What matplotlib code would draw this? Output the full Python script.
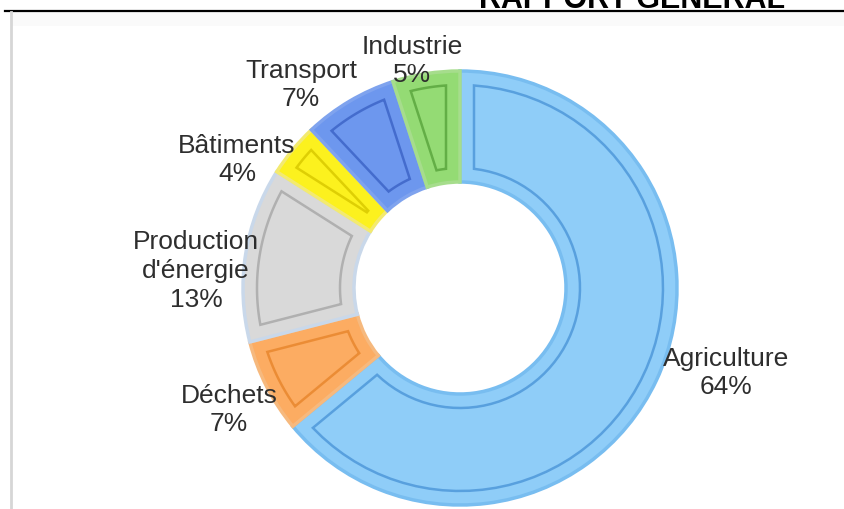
import numpy as np
import matplotlib
matplotlib.use("Agg")
from matplotlib import pyplot as plt
from matplotlib.patches import Polygon

plt.rcParams['font.family'] = ['Liberation Sans', 'DejaVu Sans']

# emissions by sector, clockwise from 12 o'clock
sectors = ["Agriculture", "Déchets", "Production\nd'énergie", "Bâtiments",
           "Transport", "Industrie"]
shares = [64, 7, 13, 4, 7, 5]
fills = ["#8fcdf8", "#fcac62", "#d9d9d9", "#fcf11e", "#6d97ee", "#94db74"]
edges = ["#78bdf0", "#f6b97e", "#c9d8ea", "#f3ea70", "#7fa3ee", "#a6dd8c"]
lines = ["#4f98da", "#e8872e", "#a9a9a9", "#d9c900", "#3d65c8", "#5ba63e"]
# label centres in page pixels (x, y from top)
label_pos = [(726, 373), (229, 410), (196, 271), (237, 160),
             (301, 85), (412, 61)]

W, H = 844, 510
cx, cy = 460, H - 289
R, r_in = 217, 106


def inset_outline(t1, t2, d):
    """Polygon following a ring wedge, pulled in by d pixels on every side."""
    ro, ri = R - d, r_in + d
    a_o, a_i = np.degrees(np.arcsin(d / ro)), np.degrees(np.arcsin(d / ri))
    outer = np.linspace(t1 + a_o, t2 - a_o, 60)
    inner = np.linspace(t2 - a_i, t1 + a_i, 60)
    if t2 - a_i < t1 + a_i:
        inner = np.array([(t1 + t2) / 2])
        ri = d / np.sin(np.radians((t2 - t1) / 2))
    pts = [(cx + ro * np.cos(np.radians(a)), cy + ro * np.sin(np.radians(a)))
           for a in outer]
    pts += [(cx + ri * np.cos(np.radians(a)), cy + ri * np.sin(np.radians(a)))
            for a in inner]
    return np.array(pts)


fig = plt.figure(figsize=(W / 100, H / 100), dpi=100)
ax = fig.add_axes([0, 0, 1, 1])
ax.set_xlim(0, W)
ax.set_ylim(0, H)
ax.set_aspect("equal")
ax.axis("off")

# faint band under the header rule
ax.fill_between([12, W], H - 27, H - 13, color="#fafafa", linewidth=0)

wedges, _ = ax.pie(shares, center=(cx, cy), radius=R, startangle=90,
                   counterclock=False, colors=fills,
                   wedgeprops=dict(width=R - r_in, linewidth=2.5))
for w, ec, lc in zip(wedges, edges, lines):
    w.set_edgecolor(ec)
    outline = inset_outline(w.theta1, w.theta2, 14)
    ax.add_patch(Polygon(outline, closed=True, fill=False, edgecolor=lc,
                         linewidth=1.8, alpha=0.85, zorder=3))
ax.set_xlim(0, W)
ax.set_ylim(0, H)

for name, val, (lx, ly) in zip(sectors, shares, label_pos):
    ax.text(lx, H - ly, f"{name}\n{val}%", ha="center", va="center",
            fontsize=19, color="#2e2e2e", linespacing=1.25, zorder=5)

# page header and frame
ax.text(785, H - 8, "RAPPORT GÉNÉRAL", ha="right", va="baseline",
        fontsize=22, fontweight="bold", color="black")
ax.plot([5, W], [H - 11.5, H - 11.5], color="black", linewidth=1.6)
ax.plot([11, 11], [0, H - 13], color="#d6d6d6", linewidth=2)

fig.savefig("out.png", dpi=100)
